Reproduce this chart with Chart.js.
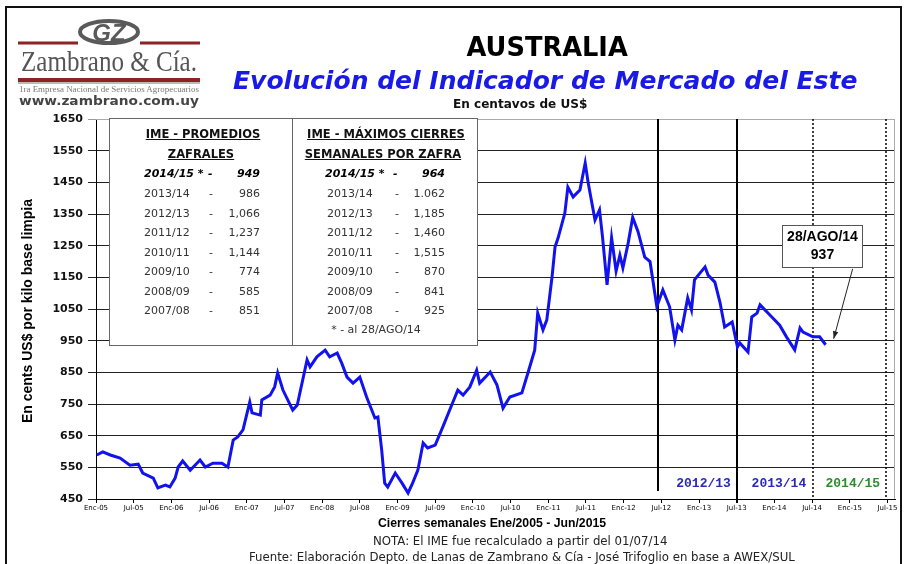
<!DOCTYPE html>
<html>
<head>
<meta charset="utf-8">
<script src="https://cdn.jsdelivr.net/npm/chart.js@4.4.1/dist/chart.umd.min.js"></script>
<style>
  body { margin: 0; background: #fff; }
  #wrap { position: relative; width: 907px; height: 564px; overflow: hidden; background: #fff; }
  #c { position: absolute; left: 0; top: 0; }
  .t { position: absolute; white-space: nowrap; line-height: 1; }
  #marco { position: absolute; left: 5px; top: 6px; width: 893px; height: 600px; border: 2px solid #111; }
  #tabla { position: absolute; left: 109px; top: 118px; width: 367px; height: 226px; background: #fff; border: 1px solid #666; }
  #tabla .div { position: absolute; left: 182px; top: 0; width: 1px; height: 226px; background: #666; }
  .cab { font: bold 11.5px 'DejaVu Sans', sans-serif; text-decoration: underline; color: #111; }
  .fila { font: 11px 'DejaVu Sans', sans-serif; color: #333; }
  .bi { font: italic bold 11px 'DejaVu Sans', sans-serif; color: #000; }
</style>
</head>
<body>
<div id="wrap">
  <canvas id="c" width="907" height="564"></canvas>
  <div id="marco"></div>

  <!-- logo -->
  <svg class="t" style="left:14px;top:14px" width="192" height="96">
    <line x1="4" y1="29" x2="64" y2="29" stroke="#8e2323" stroke-width="3"/>
    <line x1="126" y1="29" x2="186" y2="29" stroke="#8e2323" stroke-width="3"/>
    <ellipse cx="95" cy="18" rx="29" ry="11" fill="#fff" stroke="#5a5a5a" stroke-width="4"/>
    <text x="95" y="27" text-anchor="middle" font-family="Liberation Sans" font-weight="bold" font-style="italic" font-size="24" fill="#5a5a5a">GZ</text>
    <text x="95" y="57" text-anchor="middle" font-family="Liberation Serif" font-size="29" fill="#555" textLength="176" lengthAdjust="spacingAndGlyphs">Zambrano &amp; Cía.</text>
    <line x1="4" y1="66" x2="186" y2="66" stroke="#8e2323" stroke-width="4"/>
    <line x1="4" y1="69" x2="186" y2="69" stroke="#777" stroke-width="1"/>
    <text x="95" y="78" text-anchor="middle" font-family="Liberation Serif" font-size="8" fill="#777" textLength="180" lengthAdjust="spacingAndGlyphs">1ra Empresa Nacional de Servicios Agropecuarios</text>
    <text x="95" y="91" text-anchor="middle" font-family="DejaVu Sans" font-weight="bold" font-size="12" fill="#444" textLength="180" lengthAdjust="spacingAndGlyphs">www.zambrano.com.uy</text>
  </svg>

  <div class="t" data-cx="547" data-cy="47" data-w="161" style="font:bold 22px 'DejaVu Sans',sans-serif;color:#000">AUSTRALIA</div>
  <div class="t" data-cx="545" data-cy="80" data-w="625" style="font:italic bold 24px 'DejaVu Sans',sans-serif;color:#1a1ae6">Evolución del Indicador de Mercado del Este</div>
  <div class="t" data-cx="520" data-cy="104" data-w="134" style="font:bold 10px 'DejaVu Sans',sans-serif;color:#111">En centavos de US$</div>

  <div class="t" id="ytit" style="font:bold 14px 'Liberation Sans',sans-serif;color:#000;left:27px;top:311px;transform:translate(-50%,-50%) rotate(-90deg)">En cents US$ por kilo base limpia</div>

  <div class="t" data-cx="492" data-cy="523" data-w="228" style="font:bold 12px 'Liberation Sans',sans-serif;color:#000">Cierres semanales Ene/2005 - Jun/2015</div>
  <div class="t" data-cx="520" data-cy="541" data-w="295" style="font:11px 'DejaVu Sans',sans-serif;color:#222">NOTA: El IME fue recalculado a partir del 01/07/14</div>
  <div class="t" data-cx="522" data-cy="557" data-w="546" style="font:11px 'DejaVu Sans',sans-serif;color:#222">Fuente: Elaboración Depto. de Lanas de Zambrano &amp; Cía - José Trifoglio en base a AWEX/SUL</div>

  <div id="tabla"><div class="div"></div></div>
</div>

<script>
// IME semanal (cents US$/kg base limpia), fecha en años decimales
const fechas = [
  2005.01, 2005.09, 2005.19, 2005.32, 2005.45, 2005.56, 2005.62, 2005.76, 2005.82, 2005.92,
  2005.98, 2006.05, 2006.09, 2006.15, 2006.25, 2006.38, 2006.45, 2006.55, 2006.67, 2006.75,
  2006.82, 2006.88, 2006.95, 2007.04, 2007.07, 2007.18, 2007.20, 2007.31, 2007.37, 2007.41,
  2007.48, 2007.56, 2007.61, 2007.67, 2007.80, 2007.84, 2007.93, 2008.04, 2008.10, 2008.20,
  2008.26, 2008.33, 2008.41, 2008.50, 2008.59, 2008.70, 2008.74, 2008.79, 2008.83, 2008.87,
  2008.97, 2009.06, 2009.14, 2009.20, 2009.27, 2009.34, 2009.40, 2009.50, 2009.60, 2009.73,
  2009.80, 2009.87, 2009.96, 2010.05, 2010.09, 2010.23, 2010.32, 2010.40, 2010.49, 2010.65,
  2010.73, 2010.82, 2010.86, 2010.93, 2010.98, 2011.05, 2011.09, 2011.13, 2011.22, 2011.26,
  2011.33, 2011.42, 2011.49, 2011.53, 2011.62, 2011.68, 2011.72, 2011.78, 2011.84, 2011.90,
  2011.95, 2011.99, 2012.06, 2012.12, 2012.19, 2012.28, 2012.35, 2012.44, 2012.52, 2012.61,
  2012.68, 2012.72, 2012.77, 2012.85, 2012.90, 2012.94, 2013.08, 2013.12, 2013.21, 2013.28,
  2013.34, 2013.44, 2013.51, 2013.54, 2013.65, 2013.70, 2013.77, 2013.81, 2013.94, 2014.07,
  2014.16, 2014.27, 2014.34, 2014.38, 2014.51, 2014.60, 2014.68
];
const ime = [
  589, 599, 589, 579, 557, 560, 532, 516, 485, 494,
  488, 516, 551, 570, 541, 573, 551, 563, 563, 551,
  636, 646, 668, 756, 722, 715, 763, 778, 804, 848,
  794, 755, 731, 747, 889, 867, 899, 920, 899, 911,
  879, 835, 816, 835, 772, 706, 709, 605, 500, 488,
  532, 500, 469, 500, 541, 627, 611, 620, 677, 753,
  794, 778, 804, 857, 816, 851, 810, 737, 772, 785,
  848, 920, 1037, 984, 1015, 1151, 1246, 1274, 1353, 1435,
  1404, 1426, 1511, 1448, 1331, 1363, 1277, 1126, 1275, 1170,
  1220, 1180, 1258, 1339, 1295, 1214, 1200, 1058, 1110, 1057,
  952, 999, 984, 1085, 1047, 1142, 1183, 1157, 1135, 1069,
  993, 1009, 930, 943, 914, 1025, 1037, 1063, 1031, 999,
  962, 921, 990, 977, 962, 962, 937
];
const etiquetasX = ['Enc-05','Jul-05','Enc-06','Jul-06','Enc-07','Jul-07','Enc-08','Jul-08','Enc-09','Jul-09','Enc-10',
  'Jul-10','Enc-11','Jul-11','Enc-12','Jul-12','Enc-13','Jul-13','Enc-14','Jul-14','Enc-15','Jul-15'];
const zafrasEtiqueta = ['2012/13', '2013/14', '2014/15'];

// tabla
const zafrasTabla = ['2013/14', '2012/13', '2011/12', '2010/11', '2009/10', '2008/09', '2007/08'];
const promedios = ['986', '1,066', '1,237', '1,144', '774', '585', '851'];
const maximos = ['1.062', '1,185', '1,460', '1,515', '870', '841', '925'];
const actualZafra = '2014/15 *', actualProm = '949', actualMax = '964';
const ultimaFecha = '28/AGO/14';

// ---- tabla html ----
const tabla = document.getElementById('tabla');
function txt(cls, s, x, y, align) {
  const d = document.createElement('div');
  d.className = 't ' + cls;
  d.textContent = s;
  d.style.top = (y - 118 - 6) + 'px';
  if (align === 'r') { d.style.right = (476 - x) + 'px'; }
  else if (align === 'c') { d.style.left = (x - 109) + 'px'; d.style.transform = 'translateX(-50%)'; }
  else d.style.left = (x - 109) + 'px';
  tabla.appendChild(d);
}
txt('cab', 'IME - PROMEDIOS', 202, 132, 'c');
txt('cab', 'ZAFRALES', 200, 152, 'c');
txt('cab', 'IME - MÁXIMOS CIERRES', 385, 132, 'c');
txt('cab', 'SEMANALES POR ZAFRA', 382, 152, 'c');
txt('bi', actualZafra, 143, 172);
txt('bi', '-', 207, 172);
txt('bi', actualProm, 259, 172, 'r');
txt('bi', actualZafra, 324, 172);
txt('bi', '-', 392, 172);
txt('bi', actualMax, 444, 172, 'r');
zafrasTabla.forEach((z, i) => {
  const y = 192 + i * 19.5;
  txt('fila', z, 143, y);
  txt('fila', '-', 208, y);
  txt('fila', promedios[i], 259, y, 'r');
  txt('fila', z, 326, y);
  txt('fila', '-', 394, y);
  txt('fila', maximos[i], 444, y, 'r');
});
txt('fila', '* - al ' + ultimaFecha, 375, 328, 'c');

// ---- ajustar textos a su ancho ----
document.querySelectorAll('[data-cx]').forEach(el => {
  const w = +el.dataset.w;
  const fs = parseFloat(getComputedStyle(el).fontSize);
  el.style.fontSize = (fs * w / el.offsetWidth) + 'px';
  el.style.left = (el.dataset.cx - el.offsetWidth / 2) + 'px';
  el.style.top = (el.dataset.cy - el.offsetHeight / 2) + 'px';
});

// ---- extras sobre el grafico ----
const extras = {
  id: 'extras',
  beforeDatasetsDraw(chart) {
    const { ctx, chartArea: a, scales: { x, y } } = chart;
    ctx.save();
    // marco del area
    ctx.strokeStyle = '#aaa';
    ctx.lineWidth = 1;
    ctx.beginPath();
    ctx.moveTo(a.left, a.top + 0.5); ctx.lineTo(a.right - 0.5, a.top + 0.5); ctx.lineTo(a.right - 0.5, a.bottom);
    ctx.stroke();
    // cortes de zafra
    ctx.strokeStyle = '#000';
    ctx.lineWidth = 2;
    [[2012.45, a.bottom - 8], [2013.51, a.bottom + 4]].forEach(([v, b]) => {
      const px = Math.round(x.getPixelForValue(v));
      ctx.beginPath(); ctx.moveTo(px, a.top); ctx.lineTo(px, b); ctx.stroke();
    });
    ctx.setLineDash([2, 2]);
    ctx.lineWidth = 1.5;
    [2014.51, 2015.48].forEach(v => {
      const px = Math.round(x.getPixelForValue(v));
      ctx.beginPath(); ctx.moveTo(px, a.top); ctx.lineTo(px, a.bottom); ctx.stroke();
    });
    ctx.setLineDash([]);
    // etiquetas de zafra
    ctx.font = "bold 13px 'Liberation Mono', monospace";
    ctx.textAlign = 'center';
    ctx.textBaseline = 'middle';
    const colores = ['#2a2ab5', '#2a2ab5', '#2e8b2e'];
    [2013.06, 2014.06, 2015.04].forEach((v, i) => {
      ctx.fillStyle = colores[i];
      ctx.fillText(zafrasEtiqueta[i], x.getPixelForValue(v), a.bottom - 15);
    });
    ctx.restore();
  },
  afterDatasetsDraw(chart) {
    const { ctx, scales: { x, y } } = chart;
    const n = fechas.length - 1;
    const px = x.getPixelForValue(fechas[n]), py = y.getPixelForValue(ime[n]);
    ctx.save();
    // flecha
    const x0 = px + 27, y0 = py - 76, x1 = px + 8, y1 = py - 6;
    ctx.strokeStyle = '#222';
    ctx.fillStyle = '#222';
    ctx.lineWidth = 1;
    ctx.beginPath(); ctx.moveTo(x0, y0); ctx.lineTo(x1, y1); ctx.stroke();
    const ang = Math.atan2(y1 - y0, x1 - x0);
    ctx.beginPath();
    ctx.moveTo(x1, y1);
    ctx.lineTo(x1 - 8 * Math.cos(ang - 0.35), y1 - 8 * Math.sin(ang - 0.35));
    ctx.lineTo(x1 - 8 * Math.cos(ang + 0.35), y1 - 8 * Math.sin(ang + 0.35));
    ctx.closePath(); ctx.fill();
    // caja
    const bx = Math.round(px - 44) + 0.5, by = Math.round(py - 120) + 0.5;
    ctx.fillStyle = '#fff';
    ctx.fillRect(bx, by, 80, 42);
    ctx.strokeStyle = '#555';
    ctx.strokeRect(bx, by, 80, 42);
    ctx.fillStyle = '#000';
    ctx.font = "bold 14px 'Liberation Sans', sans-serif";
    ctx.textAlign = 'center';
    ctx.textBaseline = 'middle';
    ctx.fillText(ultimaFecha, bx + 40, by + 12);
    ctx.fillText(String(ime[n]), bx + 40, by + 30);
    ctx.restore();
  }
};

new Chart(document.getElementById('c'), {
  type: 'line',
  data: {
    datasets: [{
      data: fechas.map((f, i) => ({ x: f, y: ime[i] })),
      borderColor: '#1212ee',
      borderWidth: 3,
      pointRadius: 0,
      tension: 0
    }]
  },
  options: {
    responsive: false,
    animation: false,
    layout: { padding: { left: 0, top: 119, right: 12, bottom: 49 } },
    plugins: { legend: { display: false }, tooltip: { enabled: false } },
    scales: {
      x: {
        type: 'linear',
        min: 2005,
        max: 2015.6,
        afterBuildTicks: s => { s.ticks = etiquetasX.map((l, i) => ({ value: 2005 + i * 0.5 })); },
        afterFit: s => { s.height = 16; },
        ticks: {
          callback: (v, i) => etiquetasX[i],
          autoSkip: false, maxRotation: 0, padding: 1,
          color: '#000', font: { family: 'DejaVu Sans', size: 7 }
        },
        grid: { drawOnChartArea: false, drawTicks: true, tickLength: 4, color: '#000' },
        border: { color: '#000', width: 1 }
      },
      y: {
        min: 450,
        max: 1650,
        afterBuildTicks: s => {
          const t = [];
          for (let v = 450; v <= 1650; v += 100) t.push({ value: v });
          s.ticks = t;
        },
        afterFit: s => { s.width = 96; },
        ticks: {
          callback: v => String(v),
          color: '#111', padding: 5, font: { family: 'DejaVu Sans', size: 11, weight: 'bold' }
        },
        grid: {
          color: c => c.tick && c.tick.value === 1650 ? '#999' : '#222',
          lineWidth: 1, tickLength: 8
        },
        border: { color: '#000', width: 1 }
      }
    }
  },
  plugins: [extras]
});
</script>
</body>
</html>
